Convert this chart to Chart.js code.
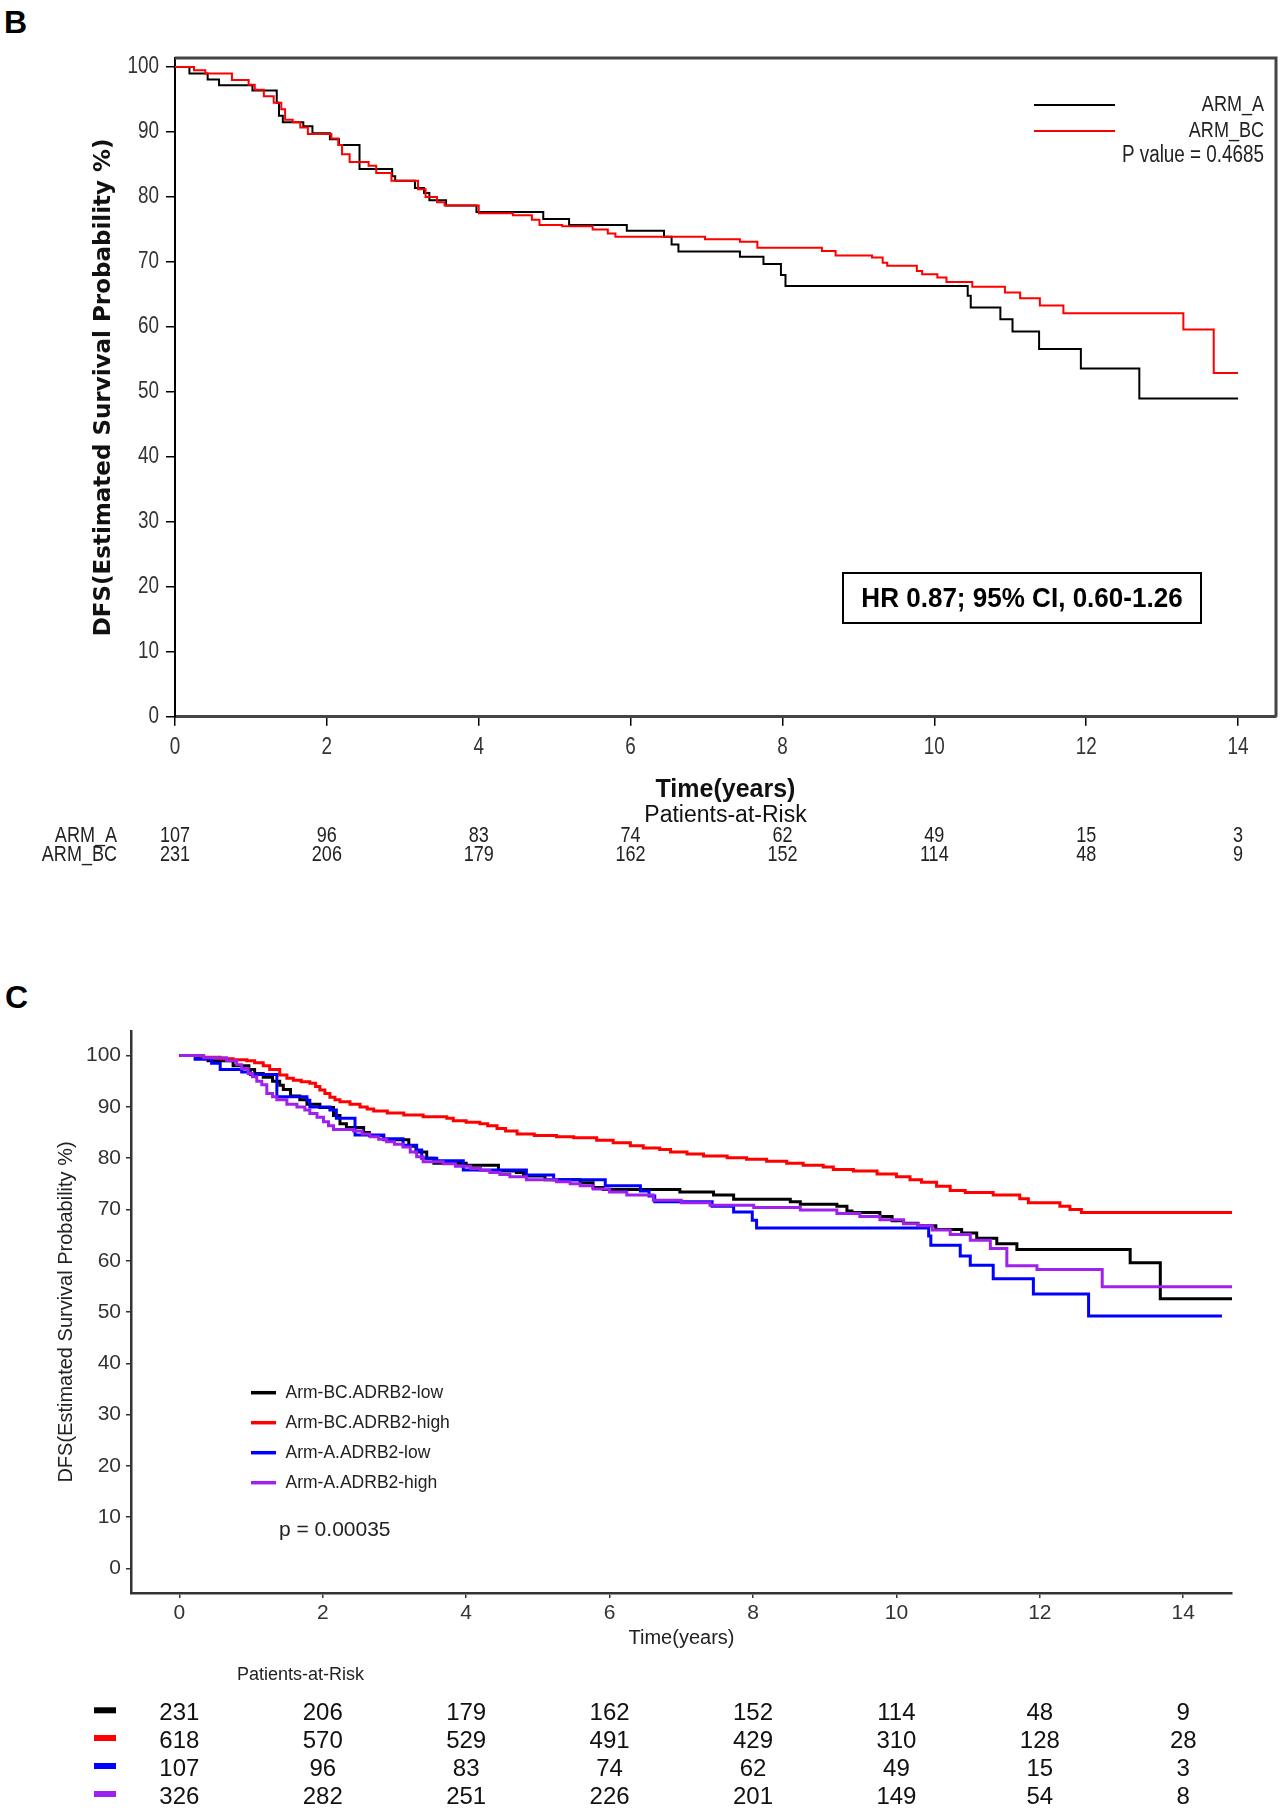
<!DOCTYPE html>
<html><head><meta charset="utf-8">
<script src="https://cdn.jsdelivr.net/npm/chart.js@4.4.1/dist/chart.umd.min.js"></script>
<style>
html,body{margin:0;padding:0;background:#fff;}
body{width:1283px;height:1810px;position:relative;overflow:hidden;}
canvas{position:absolute;left:0;}
#cb{top:0;} #cc{top:880px;}
.lab{position:absolute;font-family:'Liberation Sans',Arial,sans-serif;font-weight:bold;font-size:32px;line-height:1;color:#000;}
</style></head><body>
<div class="lab" style="left:4px;top:6px">B</div>
<div class="lab" style="left:5px;top:981px">C</div>
<canvas id="cb" width="1283" height="880"></canvas>
<canvas id="cc" width="1283" height="930"></canvas>
<script>
// ---------- Panel B data ----------
const xTicksB = [0, 2, 4, 6, 8, 10, 12, 14];
const yTicksB = [0, 10, 20, 30, 40, 50, 60, 70, 80, 90, 100];
const seriesB = ['ARM_A', 'ARM_BC'];
const armA_t = [0, 0.19, 0.43, 0.58, 1.02, 1.34, 1.37, 1.42, 1.69, 1.81, 2.04, 2.16, 2.43, 2.86, 2.90, 3.16, 3.28, 3.35, 3.57, 3.97, 4.85, 5.19, 5.95, 6.44, 6.54, 6.63, 7.44, 7.75, 7.98, 8.04, 10.44, 10.48, 10.87, 11.03, 11.38, 11.93, 12.70, 14.0];
const armA_s = [100, 99.0, 98.1, 97.2, 96.4, 94.5, 92.5, 91.5, 90.9, 89.8, 88.9, 88.0, 84.3, 83.2, 82.5, 81.4, 80.6, 79.5, 78.7, 77.7, 76.6, 75.7, 74.8, 73.9, 72.7, 71.6, 70.8, 69.7, 68.0, 66.3, 64.8, 63.0, 61.2, 59.3, 56.6, 53.6, 49.0, 49.0];
const armBC_t = [0, 0.25, 0.40, 0.75, 0.97, 1.05, 1.17, 1.30, 1.40, 1.45, 1.55, 1.65, 1.75, 2.06, 2.15, 2.20, 2.30, 2.55, 2.65, 2.85, 3.20, 3.30, 3.45, 3.55, 4.00, 4.45, 4.70, 4.80, 5.10, 5.50, 5.70, 5.80, 6.98, 7.44, 7.67, 8.52, 8.70, 9.18, 9.32, 9.38, 9.77, 9.84, 10.04, 10.16, 10.50, 10.93, 11.13, 11.39, 11.70, 13.28, 13.68, 14.0];
const armBC_s = [100, 99.5, 99.0, 98.0, 97.3, 96.5, 95.5, 94.5, 93.5, 91.9, 91.5, 90.7, 89.7, 89.0, 88.0, 86.6, 85.4, 84.8, 83.7, 82.5, 81.2, 80.0, 79.2, 78.7, 77.5, 77.2, 76.5, 75.7, 75.5, 75.0, 74.4, 73.9, 73.5, 73.1, 72.2, 71.7, 71.0, 70.7, 69.9, 69.4, 68.6, 68.1, 67.6, 66.9, 66.2, 65.3, 64.4, 63.3, 62.1, 59.6, 52.9, 52.9];
const riskTimesB = [0, 2, 4, 6, 8, 10, 12, 14];
const riskArmA = [107, 96, 83, 74, 62, 49, 15, 3];
const riskArmBC = [231, 206, 179, 162, 152, 114, 48, 9];
const yTitleB = 'DFS(Estimated Survival Probability %)';
const xTitleB = 'Time(years)';
const pTextB = 'P value = 0.4685';
const hrTextB = 'HR 0.87; 95% CI, 0.60-1.26';

// ---------- Panel C data ----------
const xTicksC = [0, 2, 4, 6, 8, 10, 12, 14];
const yTicksC = [0, 10, 20, 30, 40, 50, 60, 70, 80, 90, 100];
const seriesC = ['Arm-BC.ADRB2-low', 'Arm-BC.ADRB2-high', 'Arm-A.ADRB2-low', 'Arm-A.ADRB2-high'];
const bcLow_t = [0, 0.25, 0.40, 0.75, 0.97, 1.05, 1.17, 1.30, 1.40, 1.45, 1.55, 1.68, 1.78, 1.96, 2.15, 2.24, 2.33, 2.57, 2.65, 2.85, 3.20, 3.30, 3.45, 3.55, 4.00, 4.45, 4.70, 4.80, 5.10, 5.59, 5.77, 5.91, 6.98, 7.45, 7.73, 8.52, 8.66, 9.17, 9.31, 9.38, 9.77, 9.94, 10.10, 10.30, 10.55, 10.91, 11.12, 11.40, 11.68, 13.26, 13.68, 14.68];
const bcLow_s = [100, 99.5, 99.0, 98.0, 97.3, 96.5, 95.8, 95.0, 94.2, 93.4, 92.1, 91.4, 90.5, 89.9, 88.3, 86.7, 86.0, 85.0, 84.4, 83.6, 82.3, 81.2, 80.0, 79.0, 78.6, 77.5, 77.2, 76.5, 75.8, 75.2, 74.3, 73.9, 73.4, 72.8, 72.0, 71.5, 71.0, 70.6, 69.7, 69.4, 68.6, 67.8, 67.3, 66.8, 66.1, 65.4, 64.4, 63.3, 62.2, 59.6, 52.6, 52.6];
const bcHigh_t = [0, 0.30, 0.57, 0.75, 0.94, 1.05, 1.17, 1.26, 1.40, 1.50, 1.59, 1.70, 1.82, 1.90, 1.96, 2.03, 2.10, 2.17, 2.24, 2.38, 2.52, 2.62, 2.71, 2.90, 3.13, 3.40, 3.73, 3.82, 4.00, 4.19, 4.30, 4.43, 4.55, 4.71, 4.95, 5.26, 5.50, 5.82, 6.05, 6.29, 6.47, 6.70, 6.85, 7.08, 7.31, 7.64, 7.91, 8.19, 8.47, 8.70, 8.98, 9.12, 9.40, 9.73, 10.00, 10.19, 10.35, 10.56, 10.75, 10.96, 11.35, 11.72, 11.84, 12.28, 12.42, 12.58, 14.68];
const bcHigh_s = [100, 99.7, 99.4, 99.2, 99.0, 98.6, 98.0, 97.3, 96.2, 95.6, 95.2, 94.9, 94.6, 94.0, 93.3, 92.6, 91.9, 91.4, 91.0, 90.5, 90.0, 89.6, 89.2, 88.8, 88.4, 88.1, 87.8, 87.3, 87.0, 86.7, 86.3, 85.8, 85.3, 84.7, 84.4, 84.2, 84.0, 83.5, 83.0, 82.4, 82.0, 81.7, 81.2, 80.8, 80.4, 80.1, 79.8, 79.4, 79.0, 78.6, 78.3, 77.8, 77.5, 76.9, 76.4, 75.8, 75.3, 74.5, 73.7, 73.3, 72.8, 72.1, 71.3, 70.6, 70.0, 69.4, 69.4];
const aLow_t = [0, 0.22, 0.45, 0.57, 0.87, 0.99, 1.36, 1.78, 1.82, 2.10, 2.19, 2.45, 2.85, 3.12, 3.31, 3.38, 3.59, 3.96, 4.84, 5.22, 5.94, 6.43, 6.55, 6.63, 7.43, 7.73, 7.99, 8.05, 10.45, 10.48, 10.89, 11.03, 11.35, 11.91, 12.68, 14.54];
const aLow_s = [100, 99.3, 98.5, 97.3, 96.8, 96.3, 92.0, 91.3, 90.0, 89.4, 87.8, 84.5, 83.8, 82.5, 81.6, 80.0, 79.5, 77.7, 76.7, 75.8, 74.6, 73.6, 72.6, 71.5, 70.6, 69.5, 67.9, 66.4, 64.8, 63.0, 60.9, 59.1, 56.5, 53.5, 49.2, 49.2];
const aHigh_t = [0, 0.34, 0.66, 0.80, 0.87, 0.96, 1.02, 1.08, 1.15, 1.22, 1.30, 1.36, 1.50, 1.64, 1.75, 1.82, 1.92, 2.01, 2.08, 2.15, 2.43, 2.55, 2.66, 2.78, 2.89, 3.00, 3.12, 3.22, 3.31, 3.40, 3.68, 3.85, 4.06, 4.20, 4.33, 4.47, 4.61, 4.84, 5.26, 5.45, 5.59, 5.77, 6.00, 6.24, 6.61, 7.00, 7.40, 8.01, 8.66, 9.17, 9.49, 9.77, 10.10, 10.30, 10.50, 10.75, 11.03, 11.31, 11.54, 11.96, 12.87, 14.68];
const aHigh_s = [100, 99.6, 99.0, 98.2, 97.5, 96.5, 95.9, 95.0, 94.3, 92.6, 92.0, 91.4, 90.5, 90.0, 89.4, 88.7, 88.0, 87.1, 86.3, 85.6, 85.3, 84.7, 84.2, 83.7, 83.2, 82.7, 82.2, 81.2, 80.3, 79.3, 78.9, 78.4, 78.0, 77.6, 77.2, 76.8, 76.4, 75.8, 75.4, 75.0, 74.6, 74.0, 73.4, 72.8, 71.8, 71.3, 70.8, 70.4, 69.9, 69.2, 68.6, 68.0, 67.2, 66.8, 66.0, 65.1, 64.0, 62.4, 59.0, 58.3, 54.9, 54.9];
const riskTimesC = [0, 2, 4, 6, 8, 10, 12, 14];
const riskBcLow = [231, 206, 179, 162, 152, 114, 48, 9];
const riskBcHigh = [618, 570, 529, 491, 429, 310, 128, 28];
const riskALow = [107, 96, 83, 74, 62, 49, 15, 3];
const riskAHigh = [326, 282, 251, 226, 201, 149, 54, 8];
const yTitleC = 'DFS(Estimated Survival Probability %)';
const xTitleC = 'Time(years)';
const pTextC = 'p = 0.00035';
const riskTitle = 'Patients-at-Risk';

// ---------- helpers ----------
const SANS = "'Liberation Sans', Arial, Helvetica, sans-serif";
function km(t, s) { return t.map((v, i) => ({ x: v, y: s[i] })); }
function kmSet(label, t, s, color, width, order) {
  return { label, data: km(t, s), borderColor: color, backgroundColor: color, borderWidth: width,
    showLine: true, stepped: 'before', pointRadius: 0, pointHoverRadius: 0, fill: false, order };
}
// condensed text: Liberation Sans squeezed horizontally (narrow face is not installed)
function narrowText(ctx, text, x, y, align, size, color, weight, sx) {
  ctx.save();
  ctx.font = (weight || '') + ' ' + size + 'px ' + SANS;
  ctx.fillStyle = color; ctx.textBaseline = 'middle'; ctx.textAlign = align;
  ctx.translate(x, y); ctx.scale(sx || 0.82, 1);
  ctx.fillText(text, 0, 0);
  ctx.restore();
}

// ---------- Panel B ----------
const decorB = {
  id: 'decorB',
  afterDraw(chart) {
    const { ctx, chartArea: ca, scales: { x, y } } = chart;
    ctx.save();
    ctx.strokeStyle = '#444'; ctx.lineWidth = 3;
    ctx.beginPath(); ctx.moveTo(ca.left, ca.top); ctx.lineTo(ca.right, ca.top); ctx.lineTo(ca.right, ca.bottom); ctx.stroke();
    // tick labels (condensed), positioned by the scales
    y.ticks.forEach(t => narrowText(ctx, String(t.value), ca.left - 16, y.getPixelForValue(t.value), 'right', 23, '#333'));
    x.ticks.forEach(t => narrowText(ctx, String(t.value), x.getPixelForValue(t.value), 748, 'center', 23, '#333'));
    // y title
    ctx.save();
    ctx.translate(104, (ca.top + ca.bottom) / 2); ctx.rotate(-Math.PI / 2);
    ctx.font = "bold 23px 'DejaVu Sans', Verdana, sans-serif"; ctx.fillStyle = '#111';
    ctx.textAlign = 'center'; ctx.textBaseline = 'middle';
    ctx.fillText(yTitleB, 0, 0);
    ctx.restore();
    const cx = (ca.left + ca.right) / 2;
    ctx.fillStyle = '#111'; ctx.textAlign = 'center'; ctx.textBaseline = 'middle';
    ctx.font = 'bold 25px ' + SANS; ctx.fillText(xTitleB, cx, 790);
    ctx.font = '23px ' + SANS; ctx.fillText(riskTitle, cx, 816);
    // risk table
    const rows = [riskArmA, riskArmBC], ry = [836, 855];
    rows.forEach((r, j) => {
      narrowText(ctx, seriesB[j], 117, ry[j], 'right', 22, '#222');
      r.forEach((v, i) => narrowText(ctx, String(v), x.getPixelForValue(riskTimesB[i]), ry[j], 'center', 22, '#222'));
    });
    // legend
    const ly = [105, 131];
    chart.data.datasets.forEach((ds, i) => {
      ctx.strokeStyle = ds.borderColor; ctx.lineWidth = 2;
      ctx.beginPath(); ctx.moveTo(1034, ly[i]); ctx.lineTo(1115, ly[i]); ctx.stroke();
      narrowText(ctx, ds.label, 1264, ly[i], 'right', 22, '#222');
    });
    narrowText(ctx, pTextB, 1264, 156, 'right', 23, '#222');
    // HR box
    ctx.strokeStyle = '#000'; ctx.lineWidth = 2;
    ctx.strokeRect(843, 573, 358, 50);
    narrowText(ctx, hrTextB, 1022, 599, 'center', 28, '#000', 'bold', 0.93);
    ctx.restore();
  }
};

new Chart(document.getElementById('cb'), {
  type: 'scatter',
  data: { datasets: [
    kmSet(seriesB[0], armA_t, armA_s, '#000000', 2, 2),
    kmSet(seriesB[1], armBC_t, armBC_s, '#ff0000', 2, 1)
  ] },
  options: {
    responsive: false, animation: false, devicePixelRatio: 1,
    layout: { padding: { top: 58, right: 7, left: 75, bottom: 103.3 } },
    plugins: { legend: { display: false }, tooltip: { enabled: false } },
    scales: {
      x: { type: 'linear', min: 0, max: 14.5,
        afterBuildTicks: s => { s.ticks = xTicksB.map(v => ({ value: v })); },
        afterFit: s => { s.height = 60; },
        grid: { display: true, drawOnChartArea: false, drawTicks: true, tickLength: 9, color: '#000', tickColor: '#000', lineWidth: 1.5 },
        border: { display: true, color: '#444', width: 3 },
        ticks: { display: false, autoSkip: false }
      },
      y: { type: 'linear', min: 0, max: 101.4,
        afterBuildTicks: s => { s.ticks = yTicksB.map(v => ({ value: v })); },
        afterFit: s => { s.width = 100; },
        grid: { display: true, drawOnChartArea: false, drawTicks: true, tickLength: 9, color: '#000', tickColor: '#000', lineWidth: 1.5 },
        border: { display: true, color: '#000', width: 2 },
        ticks: { display: false, autoSkip: false }
      }
    }
  },
  plugins: [decorB]
});

// ---------- Panel C ----------
const decorC = {
  id: 'decorC',
  afterDraw(chart) {
    const { ctx, chartArea: ca, scales: { x } } = chart;
    ctx.save();
    ctx.fillStyle = '#222'; ctx.textBaseline = 'middle';
    // y title
    ctx.save();
    ctx.translate(66, (ca.top + ca.bottom) / 2); ctx.rotate(-Math.PI / 2);
    ctx.font = '20px ' + SANS; ctx.textAlign = 'center';
    ctx.fillText(yTitleC, 0, 0);
    ctx.restore();
    ctx.textAlign = 'center'; ctx.font = '20px ' + SANS;
    ctx.fillText(xTitleC, (ca.left + ca.right) / 2, 758);
    // legend
    const ly = [512.7, 542.7, 572.7, 602.7];
    chart.data.datasets.forEach((ds, k) => {
      ctx.strokeStyle = ds.borderColor; ctx.lineWidth = 3.5;
      ctx.beginPath(); ctx.moveTo(251, ly[k]); ctx.lineTo(276, ly[k]); ctx.stroke();
      ctx.fillStyle = '#222'; ctx.textAlign = 'left'; ctx.font = '17.5px ' + SANS;
      ctx.fillText(ds.label, 285.5, ly[k]);
    });
    ctx.font = '21px ' + SANS; ctx.textAlign = 'left';
    ctx.fillText(pTextC, 279, 650);
    // risk table
    ctx.font = '18px ' + SANS; ctx.fillText(riskTitle, 237, 795);
    const rows = [riskBcLow, riskBcHigh, riskALow, riskAHigh];
    const ry = [833.3, 861, 889, 917];
    rows.forEach((r, j) => {
      const ds = chart.data.datasets[j];
      ctx.strokeStyle = ds.borderColor; ctx.lineWidth = 6;
      ctx.beginPath(); ctx.moveTo(94, ry[j] - 3); ctx.lineTo(116, ry[j] - 3); ctx.stroke();
      ctx.fillStyle = '#111'; ctx.textAlign = 'center'; ctx.font = '24px ' + SANS;
      r.forEach((v, i) => ctx.fillText(String(v), x.getPixelForValue(riskTimesC[i]), ry[j]));
    });
    ctx.restore();
  }
};

new Chart(document.getElementById('cc'), {
  type: 'scatter',
  data: { datasets: [
    kmSet(seriesC[0], bcLow_t, bcLow_s, '#000000', 3, 4),
    kmSet(seriesC[1], bcHigh_t, bcHigh_s, '#ff0000', 3, 3),
    kmSet(seriesC[2], aLow_t, aLow_s, '#0000ff', 3, 2),
    kmSet(seriesC[3], aHigh_t, aHigh_s, '#a020f0', 3, 1)
  ] },
  options: {
    responsive: false, animation: false, devicePixelRatio: 1,
    layout: { padding: { top: 151, right: 51, left: 51, bottom: 167 } },
    plugins: { legend: { display: false }, tooltip: { enabled: false } },
    scales: {
      x: { type: 'linear', min: -0.674, max: 14.68,
        afterBuildTicks: s => { s.ticks = xTicksC.map(v => ({ value: v })); },
        afterFit: s => { s.height = 50; },
        grid: { display: true, drawOnChartArea: false, drawTicks: true, tickLength: 5, color: '#333', tickColor: '#333', lineWidth: 1.5 },
        border: { display: true, color: '#333', width: 2.5 },
        ticks: { font: { family: SANS, size: 21 }, color: '#333', padding: 3, maxRotation: 0, autoSkip: false }
      },
      y: { type: 'linear', min: -4.8, max: 104.8,
        afterBuildTicks: s => { s.ticks = yTicksC.map(v => ({ value: v })); },
        afterFit: s => { s.width = 80; },
        grid: { display: true, drawOnChartArea: false, drawTicks: true, tickLength: 5, color: '#333', tickColor: '#333', lineWidth: 1.5 },
        border: { display: true, color: '#333', width: 2.5 },
        ticks: { font: { family: SANS, size: 21 }, color: '#333', padding: 5, autoSkip: false }
      }
    }
  },
  plugins: [decorC]
});
</script>
</body></html>
